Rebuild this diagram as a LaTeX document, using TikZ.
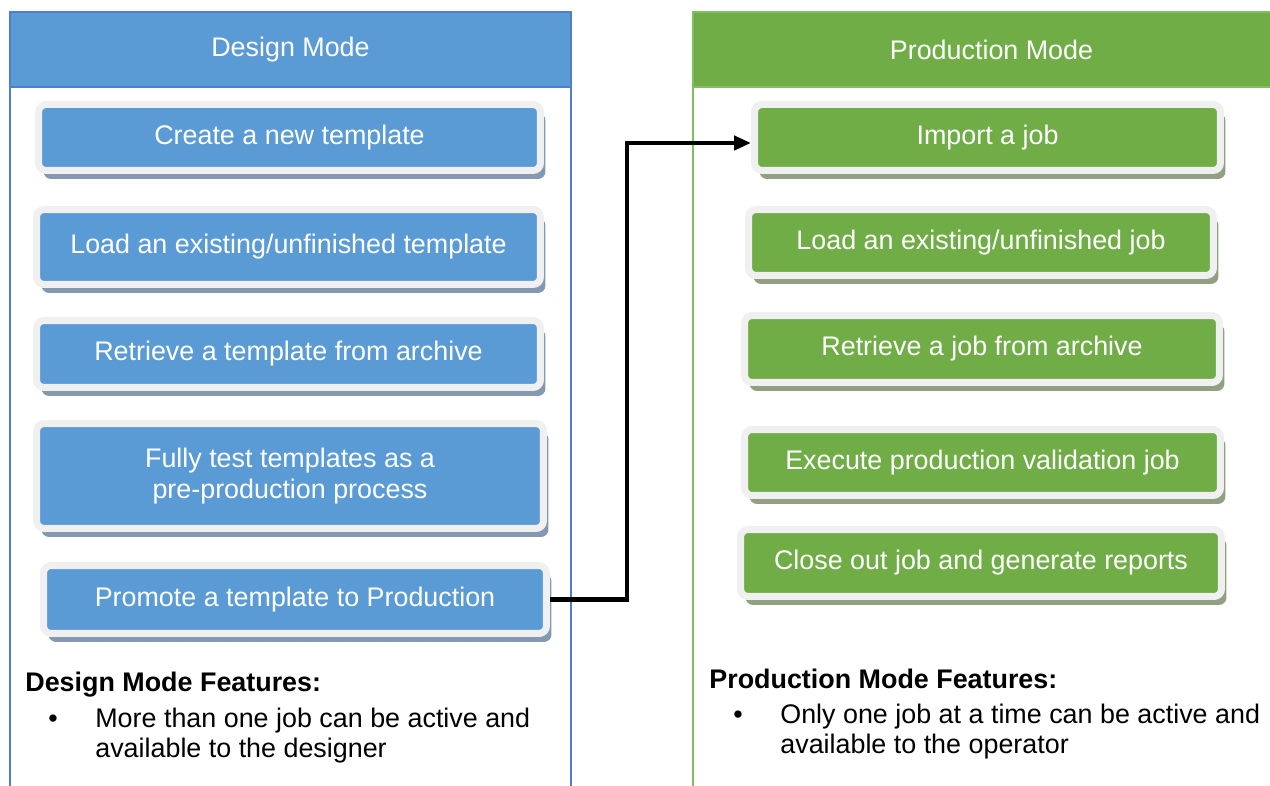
\documentclass[tikz,border=0pt]{standalone}
\usepackage{fontspec}
\setmainfont{Liberation Sans}
\usepackage{xcolor}
\usetikzlibrary{arrows.meta,shadows,positioning}
\definecolor{designblue}{RGB}{91,155,213}
\definecolor{designline}{RGB}{80,125,205}
\definecolor{prodgreen}{RGB}{112,173,71}
\definecolor{prodline}{RGB}{130,190,95}
\definecolor{blueshade}{RGB}{132,152,178}
\definecolor{greenshade}{RGB}{145,160,130}
\definecolor{framegray}{RGB}{240,240,240}

\tikzset{
  modebox/.style={rounded corners=0.15cm, draw=framegray, line width=0.14cm,
    text=white, font=\fontsize{15.3}{17.6}\selectfont, align=center, inner sep=0pt},
  designbox/.style={modebox, fill=designblue,
    drop shadow={shadow xshift=0.1cm, shadow yshift=-0.17cm, fill=blueshade, opacity=1}},
  prodbox/.style={modebox, fill=prodgreen,
    drop shadow={shadow xshift=0.1cm, shadow yshift=-0.17cm, fill=greenshade, opacity=1}},
  headbar/.style={minimum height=1.5cm, inner sep=0pt, text=white,
    font=\fontsize{15.3}{18}\selectfont},
  feattext/.style={anchor=base west, inner sep=0pt, align=left,
    font=\fontsize{15.3}{16.6}\selectfont},
  promoteline/.style={line width=2.8pt, -{Triangle[length=0.34cm, width=0.28cm]}}
}

\begin{document}
\begin{tikzpicture}[x=0.02cm, y=-0.02cm]
  \useasboundingbox (0,0) rectangle (1270,786);

  % panels
  \draw[designline, line width=0.6pt] (10,12) rectangle (571,800);
  \draw[prodline, line width=0.6pt] (693,12) rectangle (1290,800);
  \node[headbar, fill=designblue, draw=designline, line width=0.6pt, minimum width=11.22cm] (designhead) at (290.5,49.5) {Design Mode};
  \node[headbar, fill=prodgreen, draw=prodline, line width=0.6pt, minimum width=11.94cm] (prodhead) at (991.5,49.5) {Production Mode};

  % design mode steps
  \node[designbox, minimum width=10.04cm, minimum height=1.32cm] (create) at (289.5,137.5) {Create a new template};
  \node[designbox, minimum width=10.08cm, minimum height=1.50cm] (loadtpl) at (288.5,247) {Load an existing/unfinished template};
  \node[designbox, minimum width=10.08cm, minimum height=1.34cm] (retrtpl) at (288.5,354) {Retrieve a template from archive};
  \node[designbox, minimum width=10.14cm, minimum height=2.10cm] (testtpl) at (290,476) {Fully test templates as a\\pre-production process};
  \node[designbox, minimum width=10.06cm, minimum height=1.36cm] (promote) at (295,599.5) {Promote a template to Production};

  % production mode steps
  \node[prodbox, minimum width=9.32cm, minimum height=1.32cm] (importjob) at (987.5,137.5) {Import a job};
  \node[prodbox, minimum width=9.30cm, minimum height=1.32cm] (loadjob) at (981,242.5) {Load an existing/unfinished job};
  \node[prodbox, minimum width=9.50cm, minimum height=1.34cm] (retrjob) at (982,349) {Retrieve a job from archive};
  \node[prodbox, minimum width=9.52cm, minimum height=1.32cm] (execjob) at (982.5,462.5) {Execute production validation job};
  \node[prodbox, minimum width=9.62cm, minimum height=1.34cm] (closejob) at (981,563) {Close out job and generate reports};

  % promotion arrow
  \coordinate (bend) at (627,143);
  \draw[promoteline] (promote.east) -| (bend) -- (bend -| importjob.west);

  % features (base of a two-line node is its last line)
  \node[feattext, font=\fontsize{15.3}{16.6}\selectfont\bfseries] (designfeat) at (25,691) {Design Mode Features:};
  \node[feattext] (designdot) at (48,727) {\textbullet};
  \node[feattext] (designtext) at (95,757) {More than one job can be active and\\available to the designer};
  \node[feattext, font=\fontsize{15.3}{16.6}\selectfont\bfseries] (prodfeat) at (709,688) {Production Mode Features:};
  \node[feattext] (proddot) at (733,723) {\textbullet};
  \node[feattext] (prodtext) at (780,753) {Only one job at a time can be active and\\available to the operator};
\end{tikzpicture}
\end{document}
